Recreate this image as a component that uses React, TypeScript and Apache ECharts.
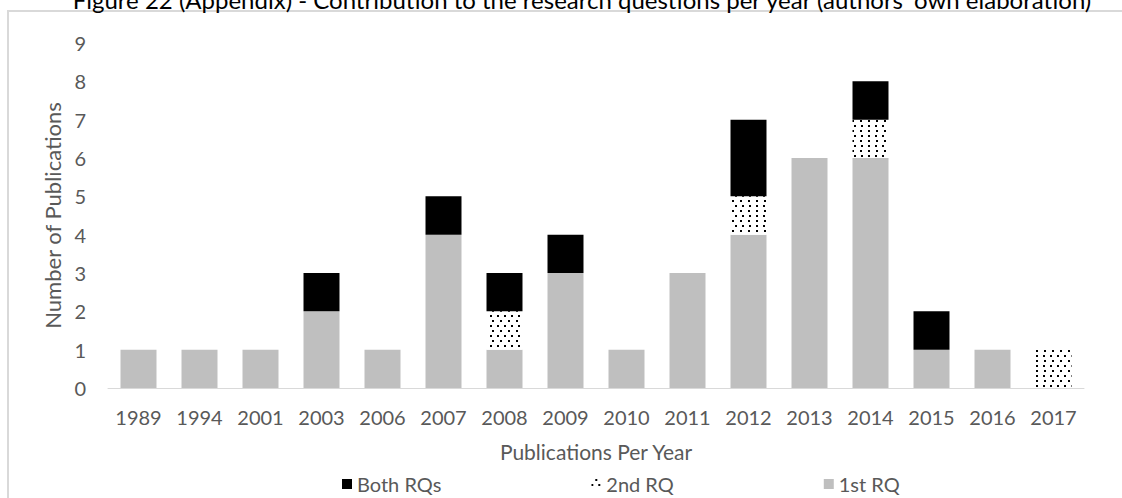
import React, { useEffect, useRef } from "react";
import * as echarts from "echarts";

const years = ["1989", "1994", "2001", "2003", "2006", "2007", "2008", "2009", "2010", "2011", "2012", "2013", "2014", "2015", "2016", "2017"];
const firstRQ = [1, 1, 1, 2, 1, 4, 1, 3, 1, 3, 4, 6, 6, 1, 1, 0];
const secondRQ = [0, 0, 0, 0, 0, 0, 1, 0, 0, 0, 1, 0, 1, 0, 0, 1];
const bothRQs = [0, 0, 0, 1, 0, 1, 1, 1, 0, 0, 2, 0, 1, 1, 0, 0];
const yTicks = [0, 9, 1];

const FONT = "Lato";
const GRAY = "#595959";

export default function App() {
  const ref = useRef<HTMLDivElement>(null);
  useEffect(() => {
    if (!ref.current) return;
    const chart = echarts.init(ref.current, undefined, { renderer: "svg" });
    const dotDecal = {
      symbol: "rect",
      symbolSize: 1,
      color: "#000",
      backgroundColor: "#fff",
      dashArrayX: [[2, 5], [0, 3.5, 2, 1.5]],
      dashArrayY: [2, 3],
      rotation: 0,
    };
    chart.setOption({
      animation: false,
      backgroundColor: "#fff",
      textStyle: { fontFamily: FONT },
      graphic: [
        {
          type: "rect",
          shape: { x: 8, y: 11, width: 1200, height: 600 },
          style: { fill: "none", stroke: "#d9d9d9", lineWidth: 2 },
          silent: true,
        },
        {
          type: "text",
          x: 582,
          y: 11,
          style: {
            text: "Figure 22 (Appendix) - Contribution to the research questions per year (authors' own elaboration)",
            fontFamily: FONT,
            fontSize: 24,
            fill: "#000",
            align: "center",
            verticalAlign: "bottom",
          },
        },
      ],
      grid: { left: 108, right: 38, top: 43, bottom: 110 },
      legend: {
        top: 469,
        left: 337,
        itemWidth: 10,
        itemHeight: 10,
        itemGap: 150,
        icon: "rect",
        textStyle: { color: GRAY, fontSize: 20, fontFamily: FONT },
        data: ["Both RQs", "2nd RQ", "1st RQ"],
      },
      xAxis: {
        type: "category",
        data: years,
        name: "Publications Per Year",
        nameLocation: "middle",
        nameGap: 53,
        nameTextStyle: { color: GRAY, fontSize: 21, fontFamily: FONT },
        axisLine: { lineStyle: { color: "#d9d9d9", width: 1 } },
        axisTick: { show: false },
        axisLabel: { color: GRAY, fontSize: 20, margin: 19, fontFamily: FONT },
      },
      yAxis: {
        type: "value",
        min: yTicks[0],
        max: yTicks[1],
        interval: yTicks[2],
        name: "Number of Publications",
        nameLocation: "middle",
        nameGap: 41,
        nameTextStyle: { color: GRAY, fontSize: 22, fontFamily: FONT },
        splitLine: { show: false },
        axisLine: { show: false },
        axisTick: { show: false },
        axisLabel: { color: GRAY, fontSize: 20, margin: 22, fontFamily: FONT },
      },
      series: [
        {
          name: "1st RQ",
          type: "bar",
          stack: "total",
          barWidth: "59%",
          data: firstRQ,
          itemStyle: { color: "#bfbfbf" },
        },
        {
          name: "2nd RQ",
          type: "bar",
          stack: "total",
          data: secondRQ,
          itemStyle: { color: "#fff", decal: dotDecal },
        },
        {
          name: "Both RQs",
          type: "bar",
          stack: "total",
          data: bothRQs,
          itemStyle: { color: "#000" },
        },
      ],
    });
    return () => chart.dispose();
  }, []);
  return (
    <div
      ref={ref}
      style={{ position: "absolute", left: 0, top: 0, width: 1122, height: 498 }}
    />
  );
}
